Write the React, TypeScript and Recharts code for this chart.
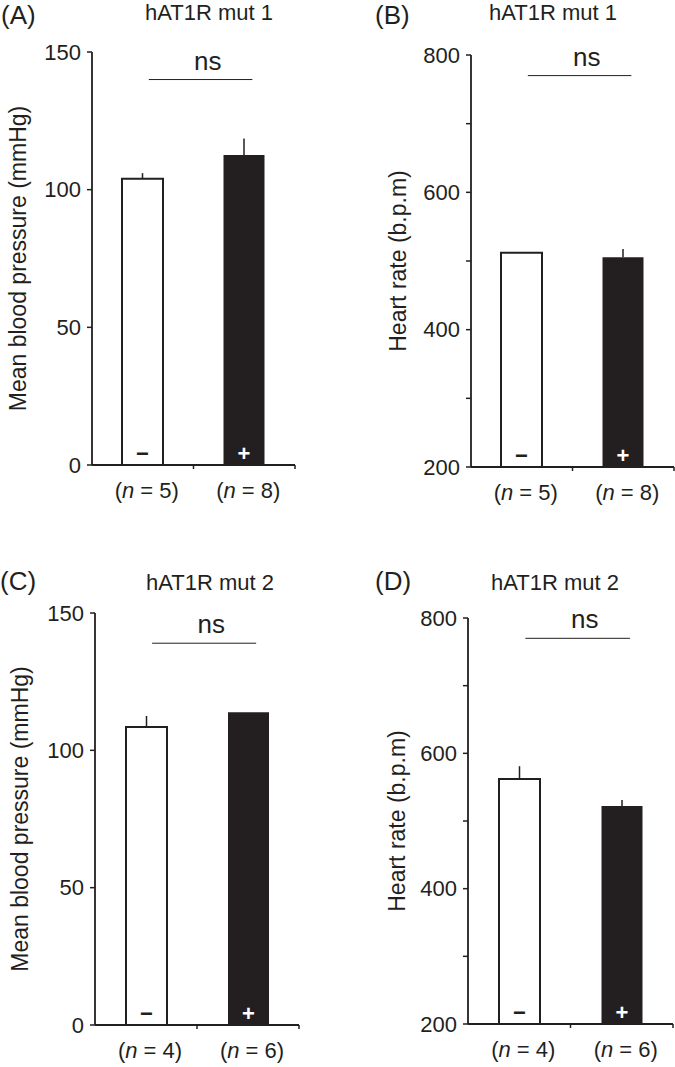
import React from "react";
import {
  BarChart,
  Bar,
  XAxis,
  YAxis,
  Cell,
  ErrorBar,
  LabelList,
  ReferenceLine,
} from "recharts";

const FONT = '"Liberation Sans", Arial, Helvetica, sans-serif';
const INK = "#231f20";

// values
const panelLetters = ["(A)", "(B)", "(C)", "(D)"];
const panelTitles = ["hAT1R mut 1", "hAT1R mut 1", "hAT1R mut 2", "hAT1R mut 2"];
const treatments = ["−", "+"];

const mbpMut1 = [104, 112.6];
const mbpMut1Err = [2, 6];
const hrMut1 = [512, 505.4];
const hrMut1Err = [0, 12];
const mbpMut2 = [108.5, 113.9];
const mbpMut2Err = [4, 0];
const hrMut2 = [562, 522];
const hrMut2Err = [19, 9];

const nMut1 = [5, 8];
const nMut2 = [4, 6];

const mbpTicks = [0, 50, 100, 150];
const hrTicks = [200, 300, 400, 500, 600, 700, 800];
const nsLevel = [140, 770, 139, 770];

const mbpLabel = "Mean blood pressure (mmHg)";
const hrLabel = "Heart rate (b.p.m)";

type Row = { treatment: string; value: number; err: number[]; n: number };

const buildRows = (vals: number[], errs: number[], ns: number[]): Row[] =>
  treatments.map((t, i) => ({ treatment: t, value: vals[i], err: [0, errs[i]], n: ns[i] }));

const SigBar = (props: any) => {
  const { x1, x2, y1 } = props;
  const w = x2 - x1;
  return (
    <g>
      <line x1={x1 + 0.28 * w} x2={x1 + 0.79 * w} y1={y1} y2={y1} stroke={INK} strokeWidth={1} />
      <text x={x1 + 0.57 * w} y={y1 - 10} textAnchor="middle" fontSize={26} fontFamily={FONT} fill={INK}>
        ns
      </text>
    </g>
  );
};

const SignLabel = (props: any) => {
  const box = props.viewBox || props;
  const { x, y, width, height } = box;
  const i = props.index;
  return (
    <text
      x={x + width / 2}
      y={y + height - 12}
      textAnchor="middle"
      dominantBaseline="central"
      fontSize={22}
      fontWeight="bold"
      fontFamily={FONT}
      fill={i === 0 ? INK : "#ffffff"}
    >
      {props.value}
    </text>
  );
};

type PanelProps = {
  idx: number;
  left: number;
  top: number;
  width: number;
  height: number;
  margin: { top: number; right: number; bottom: number; left: number };
  yWidth: number;
  labelOffset: number;
  rows: Row[];
  domain: [number, number];
  ticks: number[];
  labelEvery: number;
  yLabel: string;
};

const Panel = (p: PanelProps) => {
  const plotW = p.width - p.margin.left - p.margin.right - p.yWidth;
  const plotH = p.height - p.margin.top - p.margin.bottom - 40;
  const half = plotW / 4;
  const NTick = (t: any) => {
    const off = typeof t.payload?.offset === "number" && t.payload.offset > 0 ? t.payload.offset : half;
    const row = p.rows[t.index];
    return (
      <g>
        <line x1={t.x + off} x2={t.x + off} y1={t.y} y2={t.y + 4} stroke={INK} strokeWidth={1.5} />
        <text x={t.x + 4} y={t.y + 33} textAnchor="middle" fontSize={22} fontFamily={FONT} fill={INK}>
          (<tspan fontStyle="italic">n</tspan> = {row ? row.n : ""})
        </text>
      </g>
    );
  };
  const cx = p.margin.left + p.labelOffset;
  const cy = p.margin.top + plotH / 2;
  const YLabel = () => (
    <text
      x={cx}
      y={cy}
      transform={`rotate(-90 ${cx} ${cy})`}
      textAnchor="middle"
      dominantBaseline="central"
      fontSize={23}
      fontFamily={FONT}
      fill={INK}
    >
      {p.yLabel}
    </text>
  );
  return (
    <div style={{ position: "absolute", left: p.left, top: p.top }}>
      <BarChart width={p.width} height={p.height} data={p.rows} margin={p.margin}>
        <XAxis
          dataKey="treatment"
          height={40}
          interval={0}
          tickLine={false}
          tickSize={0}
          tickMargin={0}
          axisLine={{ stroke: INK, strokeWidth: 1.8 }}
          tick={NTick}
        />
        <YAxis
          type="number"
          domain={p.domain}
          ticks={p.ticks}
          interval={0}
          allowDataOverflow
          width={p.yWidth}
          tickSize={5}
          tickMargin={6}
          axisLine={{ stroke: INK, strokeWidth: 1.8 }}
          tickLine={{ stroke: INK, strokeWidth: 1.5 }}
          tick={{ fill: INK, fontSize: 22, fontFamily: FONT }}
          tickFormatter={(v: number) => ((v - p.domain[0]) % p.labelEvery === 0 ? String(v) : "")}
          label={YLabel}
        />
        <ReferenceLine y={nsLevel[p.idx]} shape={SigBar} ifOverflow="visible" />
        <Bar dataKey="value" barSize={41} isAnimationActive={false}>
          {p.rows.map((r, i) => (
            <Cell
              key={r.treatment}
              fill={i === 0 ? "#ffffff" : INK}
              stroke={i === 0 ? INK : "none"}
              strokeWidth={2}
            />
          ))}
          <ErrorBar dataKey="err" width={0} stroke={INK} strokeWidth={1.5} direction="y" isAnimationActive={false} />
          <LabelList dataKey="treatment" content={SignLabel} />
        </Bar>
      </BarChart>
    </div>
  );
};

const titlePos = [
  { tx: 209, ty: 20, lx: 1, ly: 24 },
  { tx: 553, ty: 20, lx: 375, ly: 24 },
  { tx: 210, ty: 590, lx: 0, ly: 590 },
  { tx: 555, ty: 590, lx: 375, ly: 590 },
];

export default function App() {
  return (
    <div
      style={{
        position: "absolute",
        left: 0,
        top: 0,
        width: 675,
        height: 1067,
        background: "#ffffff",
        fontFamily: FONT,
      }}
    >
      <Panel
        idx={0}
        left={0}
        top={0}
        width={340}
        height={520}
        margin={{ top: 52, right: 45, bottom: 15, left: 0 }}
        yWidth={92}
        labelOffset={18}
        rows={buildRows(mbpMut1, mbpMut1Err, nMut1)}
        domain={[0, 150]}
        ticks={mbpTicks}
        labelEvery={50}
        yLabel={mbpLabel}
      />
      <Panel
        idx={1}
        left={340}
        top={0}
        width={335}
        height={520}
        margin={{ top: 55, right: 1, bottom: 13, left: 0 }}
        yWidth={131}
        labelOffset={58}
        rows={buildRows(hrMut1, hrMut1Err, nMut1)}
        domain={[200, 800]}
        ticks={hrTicks}
        labelEvery={200}
        yLabel={hrLabel}
      />
      <Panel
        idx={2}
        left={0}
        top={540}
        width={340}
        height={527}
        margin={{ top: 73, right: 41, bottom: 2, left: 0 }}
        yWidth={95}
        labelOffset={20}
        rows={buildRows(mbpMut2, mbpMut2Err, nMut2)}
        domain={[0, 150]}
        ticks={mbpTicks}
        labelEvery={50}
        yLabel={mbpLabel}
      />
      <Panel
        idx={3}
        left={340}
        top={540}
        width={335}
        height={527}
        margin={{ top: 78, right: 2, bottom: 3, left: 0 }}
        yWidth={128}
        labelOffset={57}
        rows={buildRows(hrMut2, hrMut2Err, nMut2)}
        domain={[200, 800]}
        ticks={hrTicks}
        labelEvery={200}
        yLabel={hrLabel}
      />
      <svg
        width={675}
        height={1067}
        style={{ position: "absolute", left: 0, top: 0, pointerEvents: "none" }}
      >
        {titlePos.map((t, i) => (
          <g key={i}>
            <text x={t.tx} y={t.ty} textAnchor="middle" fontSize={22} fontFamily={FONT} fill={INK}>
              {panelTitles[i]}
            </text>
            <text x={t.lx} y={t.ly} fontSize={26} fontFamily={FONT} fill={INK}>
              {panelLetters[i]}
            </text>
          </g>
        ))}
      </svg>
    </div>
  );
}
